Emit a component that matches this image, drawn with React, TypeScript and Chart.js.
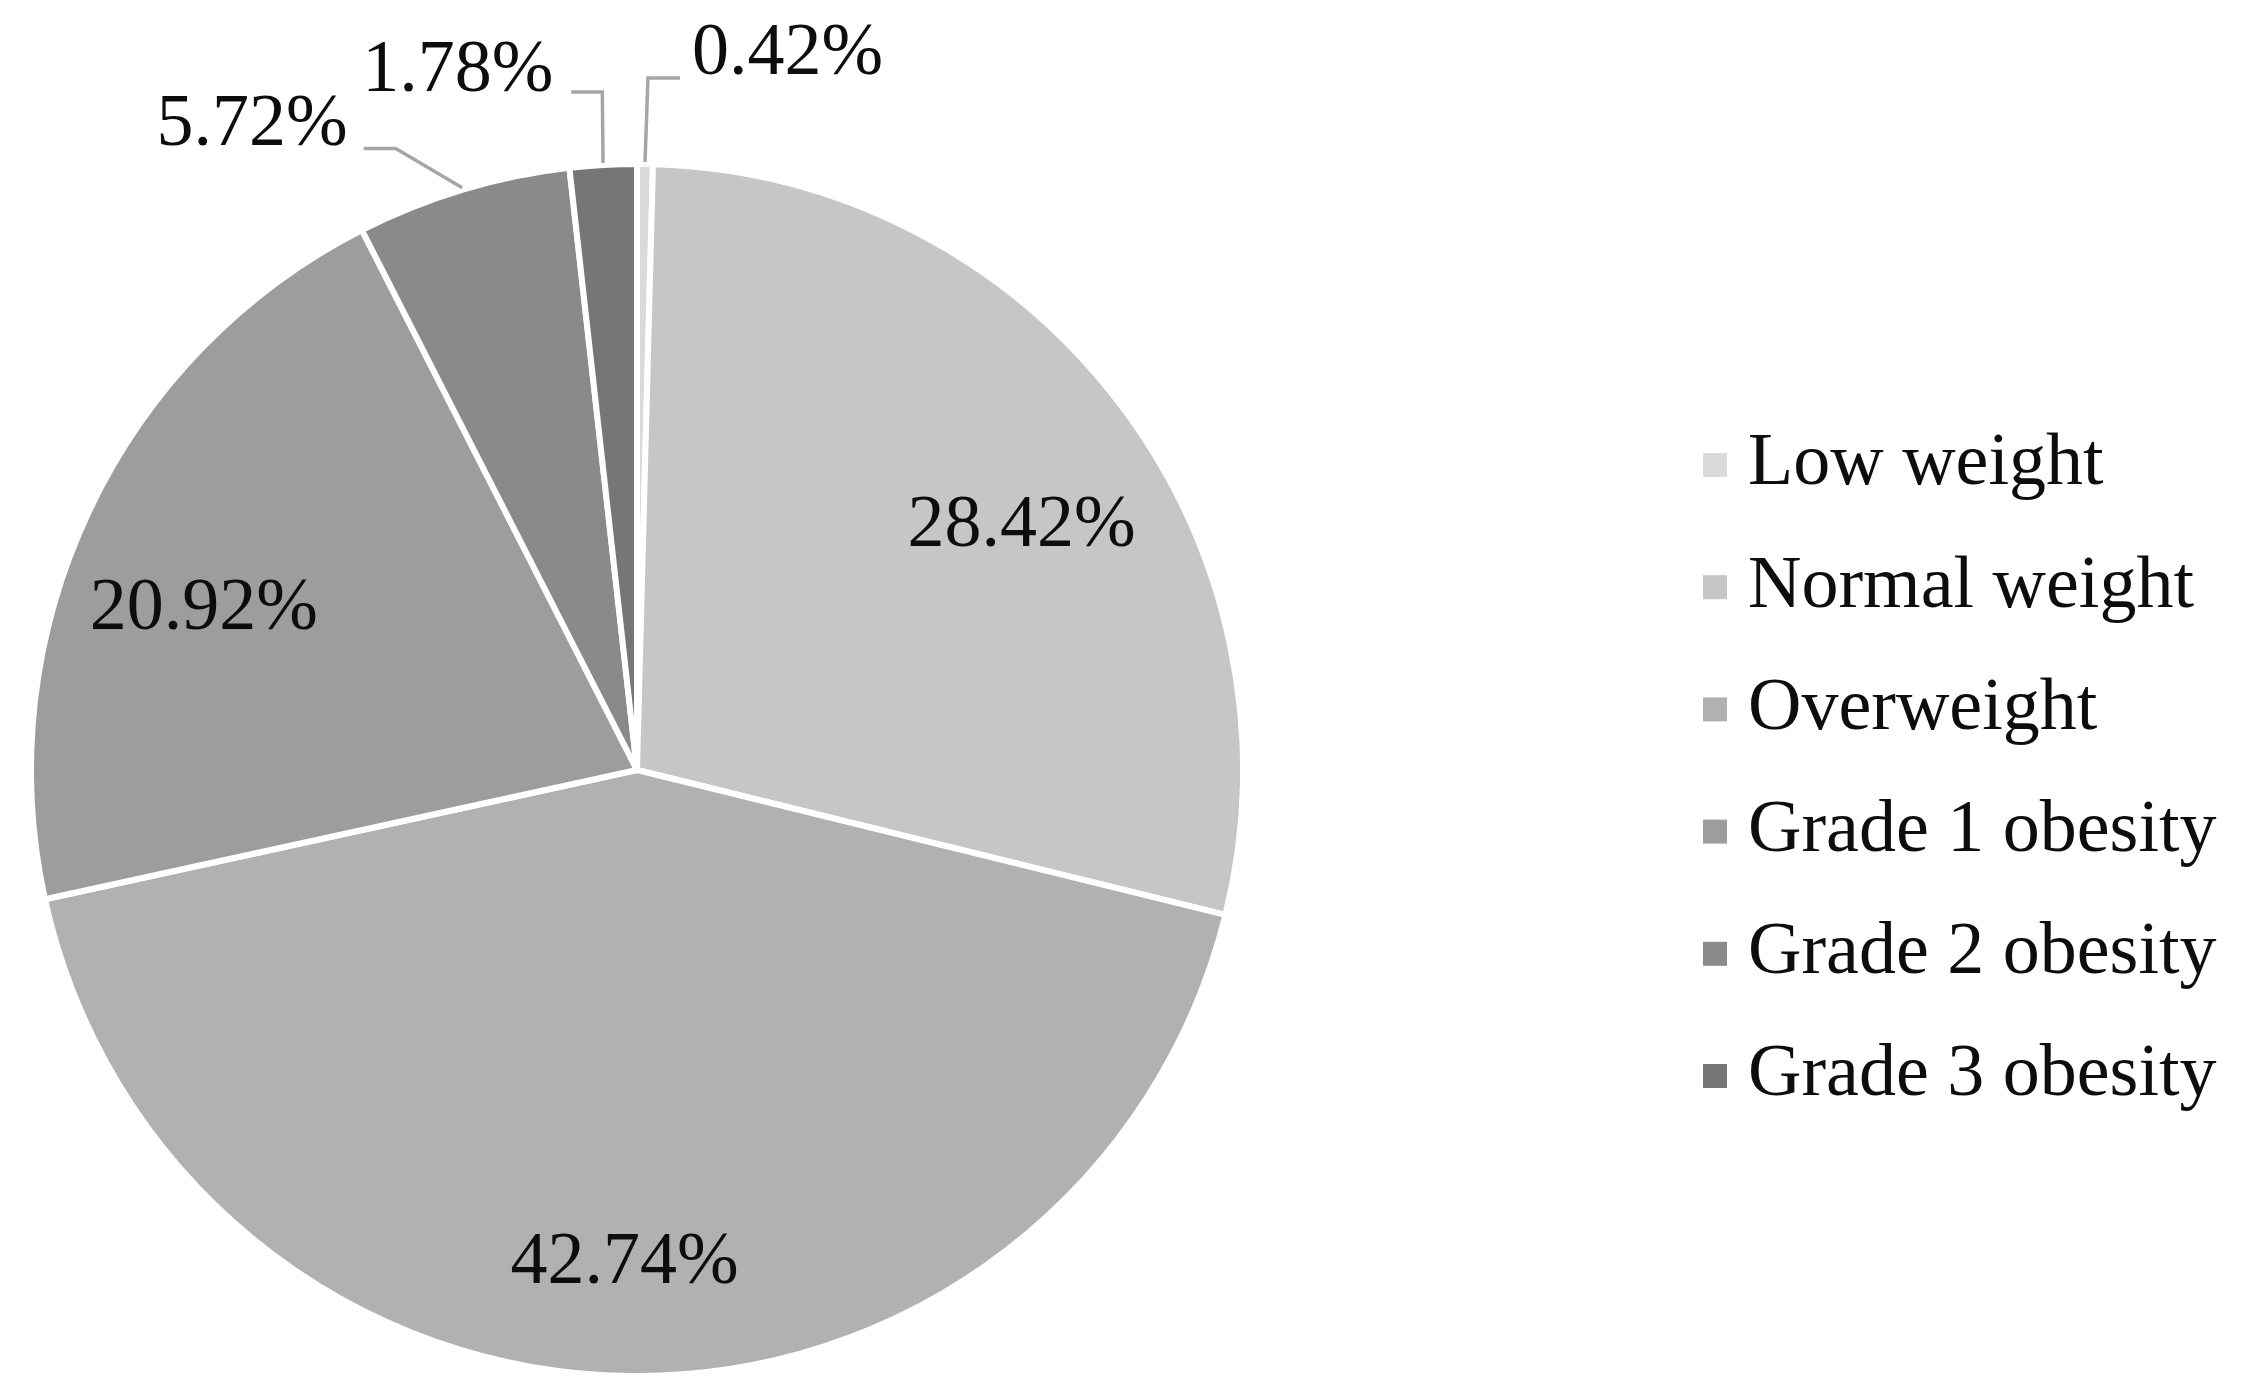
import React, { useEffect, useRef } from "react";
import { Chart, registerables } from "chart.js";

Chart.register(...registerables);

const categories = [
  "Low weight",
  "Normal weight",
  "Overweight",
  "Grade 1 obesity",
  "Grade 2 obesity",
  "Grade 3 obesity",
];
const percentages = [0.42, 28.42, 42.74, 20.92, 5.72, 1.78];
const valueLabels = ["0.42%", "28.42%", "42.74%", "20.92%", "5.72%", "1.78%"];
const sliceColors = ["#dadada", "#c6c6c6", "#b1b1b1", "#9d9d9d", "#8a8a8a", "#767676"];

// label placement (styling, not data)
type Inside = { kind: "in"; frac: number; shiftDeg: number };
type Outside = { kind: "out"; elbowDx: number; elbowDy: number; armDx: number; gap: number; textDy: number };
const labelPlacement: (Inside | Outside)[] = [
  { kind: "out", elbowDx: 3, elbowDy: -89, armDx: 32, gap: 12, textDy: -23 },
  { kind: "in", frac: 0.755, shiftDeg: 5 },
  { kind: "in", frac: 0.818, shiftDeg: 0.7 },
  { kind: "in", frac: 0.766, shiftDeg: -5 },
  { kind: "out", elbowDx: -68, elbowDy: -44, armDx: -32, gap: 16, textDy: -23 },
  { kind: "out", elbowDx: -1, elbowDy: -76, armDx: -31, gap: 18, textDy: -20 },
];

const FONT = "74px 'Liberation Serif', 'Times New Roman', serif";

const labelPlugin = {
  id: "sliceLabels",
  afterDatasetsDraw(chart: any) {
    const ctx = chart.ctx as CanvasRenderingContext2D;
    const meta = chart.getDatasetMeta(0);
    ctx.save();
    ctx.font = FONT;
    ctx.fillStyle = "#0d0d0d";
    ctx.textBaseline = "middle";
    meta.data.forEach((arc: any, i: number) => {
      const { x, y, startAngle, endAngle, outerRadius } = arc.getProps(
        ["x", "y", "startAngle", "endAngle", "outerRadius"],
        true
      );
      const mid = (startAngle + endAngle) / 2;
      const p = labelPlacement[i];
      const text = valueLabels[i];
      if (p.kind === "in") {
        const a = mid + (p.shiftDeg * Math.PI) / 180;
        const r = (outerRadius - 3) * p.frac;
        ctx.textAlign = "center";
        ctx.fillText(text, x + Math.cos(a) * r, y + Math.sin(a) * r);
      } else {
        const rr = outerRadius - 3;
        const ex = x + Math.cos(mid) * rr;
        const ey = y + Math.sin(mid) * rr;
        const sx = x + Math.cos(mid) * (rr + 5);
        const sy = y + Math.sin(mid) * (rr + 5);
        const bx = ex + p.elbowDx;
        const by = ey + p.elbowDy;
        const tx = bx + p.armDx;
        ctx.beginPath();
        ctx.strokeStyle = "#a6a6a6";
        ctx.lineWidth = 3.5;
        ctx.moveTo(sx, sy);
        ctx.lineTo(bx, by);
        ctx.lineTo(tx, by);
        ctx.stroke();
        if (p.armDx >= 0) {
          ctx.textAlign = "left";
          ctx.fillText(text, tx + p.gap, by + p.textDy);
        } else {
          ctx.textAlign = "right";
          ctx.fillText(text, tx - p.gap, by + p.textDy);
        }
      }
    });
    ctx.restore();
  },
};

const legendPlugin = {
  id: "sideLegend",
  afterDraw(chart: any) {
    const ctx = chart.ctx as CanvasRenderingContext2D;
    const labels = chart.data.labels as string[];
    const colors = chart.data.datasets[0].backgroundColor as string[];
    const boxX = 1703;
    const textX = 1748;
    const firstY = 465;
    const step = 122.2;
    const box = 24;
    ctx.save();
    ctx.font = FONT;
    ctx.textBaseline = "middle";
    ctx.textAlign = "left";
    labels.forEach((lab, i) => {
      const cy = firstY + i * step;
      ctx.fillStyle = colors[i];
      ctx.fillRect(boxX, cy - box / 2, box, box);
      ctx.fillStyle = "#0d0d0d";
      ctx.fillText(lab, textX, cy);
    });
    ctx.restore();
  },
};

export default function App() {
  const ref = useRef<HTMLCanvasElement | null>(null);
  useEffect(() => {
    document.body.style.margin = "0";
    const canvas = ref.current!;
    const chart = new Chart(canvas, {
      type: "pie",
      data: {
        labels: categories,
        datasets: [
          {
            data: percentages,
            backgroundColor: sliceColors,
            borderColor: "#ffffff",
            borderWidth: 6,
          },
        ],
      },
      options: {
        responsive: false,
        animation: false,
        layout: { padding: { top: 161, bottom: 18, left: 28, right: 1005 } },
        plugins: {
          legend: { display: false },
          tooltip: { enabled: false },
        },
      },
      plugins: [labelPlugin, legendPlugin],
    });
    return () => chart.destroy();
  }, []);
  return (
    <div style={{ position: "absolute", left: 0, top: 0, width: 2251, height: 1397, background: "#fff" }}>
      <canvas ref={ref} width={2251} height={1397} style={{ width: 2251, height: 1397, display: "block" }} />
    </div>
  );
}
